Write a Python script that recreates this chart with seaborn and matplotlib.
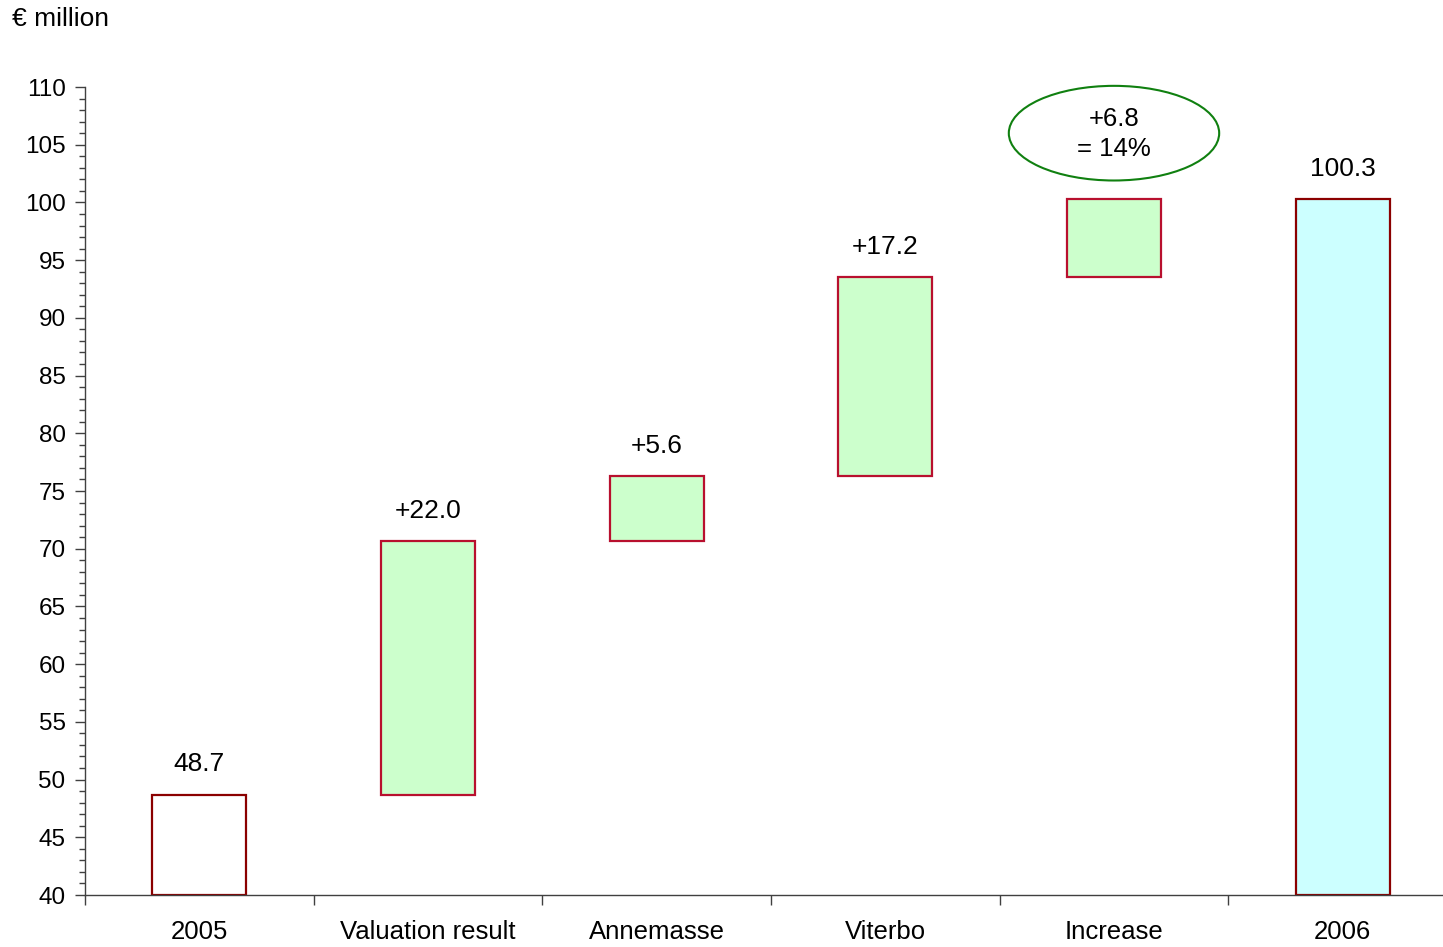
import matplotlib
matplotlib.use("Agg")
import matplotlib.pyplot as plt
from matplotlib.patches import Ellipse
from matplotlib.ticker import MultipleLocator, FixedLocator
import seaborn as sns
import numpy as np

categories = ["2005", "Valuation result", "Annemasse", "Viterbo", "Increase", "2006"]
start_value = 48.7
changes = [22.0, 5.6, 17.2, 6.8]
end_value = 100.3
value_labels = ["48.7", "+22.0", "+5.6", "+17.2", "", "100.3"]
ellipse_text = "+6.8\n= 14%"
unit_label = "€ million"

sns.set_theme(style="white")
plt.rcParams['font.family'] = ['Liberation Sans', 'DejaVu Sans']
plt.rcParams['text.color'] = 'black'

cum = np.cumsum([start_value] + changes)
bottoms = [40.0] + list(cum[:-1]) + [40.0]
tops = list(cum) + [end_value]
heights = [t - b for t, b in zip(tops, bottoms)]

fills = ["#FFFFFF", "#CCFFCC", "#CCFFCC", "#CCFFCC", "#CCFFCC", "#CCFFFF"]
edges = ["#8B0000", "#B8102E", "#B8102E", "#B8102E", "#B8102E", "#8B0000"]

fig = plt.figure(figsize=(14.43, 9.47), dpi=100)
ax = fig.add_axes([85/1443, 1-895/947, (1457-85)/1443, (895-87)/947])

for cat, h, b, fc, ec in zip(categories, heights, bottoms, fills, edges):
    sns.barplot(x=[cat], y=[h], bottom=b, order=categories, color=fc,
                width=0.41, edgecolor=ec, linewidth=1.6, ax=ax, saturation=1)

for i, (t, lab) in enumerate(zip(tops, value_labels)):
    if lab:
        ax.text(i, t + 2.0, lab, ha="center", va="baseline", fontsize=19, color="black")

ax.add_patch(Ellipse((4, 106.0), width=0.92, height=8.2, fill=False,
                     edgecolor="#108010", linewidth=1.5, clip_on=False))
ax.text(4, 105.95, ellipse_text, ha="center", va="center", fontsize=18.5,
        color="black", linespacing=1.3)

ax.set_ylim(40, 110)
ax.set_xlim(-0.5, 5.5)
ax.yaxis.set_major_locator(MultipleLocator(5))
ax.yaxis.set_minor_locator(MultipleLocator(1))
ax.xaxis.set_minor_locator(FixedLocator(np.arange(-0.5, 6, 1)))
ax.tick_params(axis="y", which="major", length=7, width=1, color="#404040",
               labelsize=17.5, labelcolor="black", direction="out", left=True, pad=7)
ax.tick_params(axis="y", which="minor", length=4, width=1, color="#404040",
               direction="out", left=True)
ax.tick_params(axis="x", which="major", length=0, labelsize=18.5, labelcolor="black", pad=18)
ax.tick_params(axis="x", which="minor", length=7, width=1, color="#404040",
               direction="out", bottom=True)
for s in ["top", "right"]:
    ax.spines[s].set_visible(False)
for s in ["left", "bottom"]:
    ax.spines[s].set_color("#404040")
    ax.spines[s].set_linewidth(1)
ax.set_xlabel("")
ax.set_ylabel("")
ax.grid(False)

fig.text(12/1443, 1-19/947, unit_label, ha="left", va="center", fontsize=19, color="black")

fig.savefig("out.png", dpi=100)
